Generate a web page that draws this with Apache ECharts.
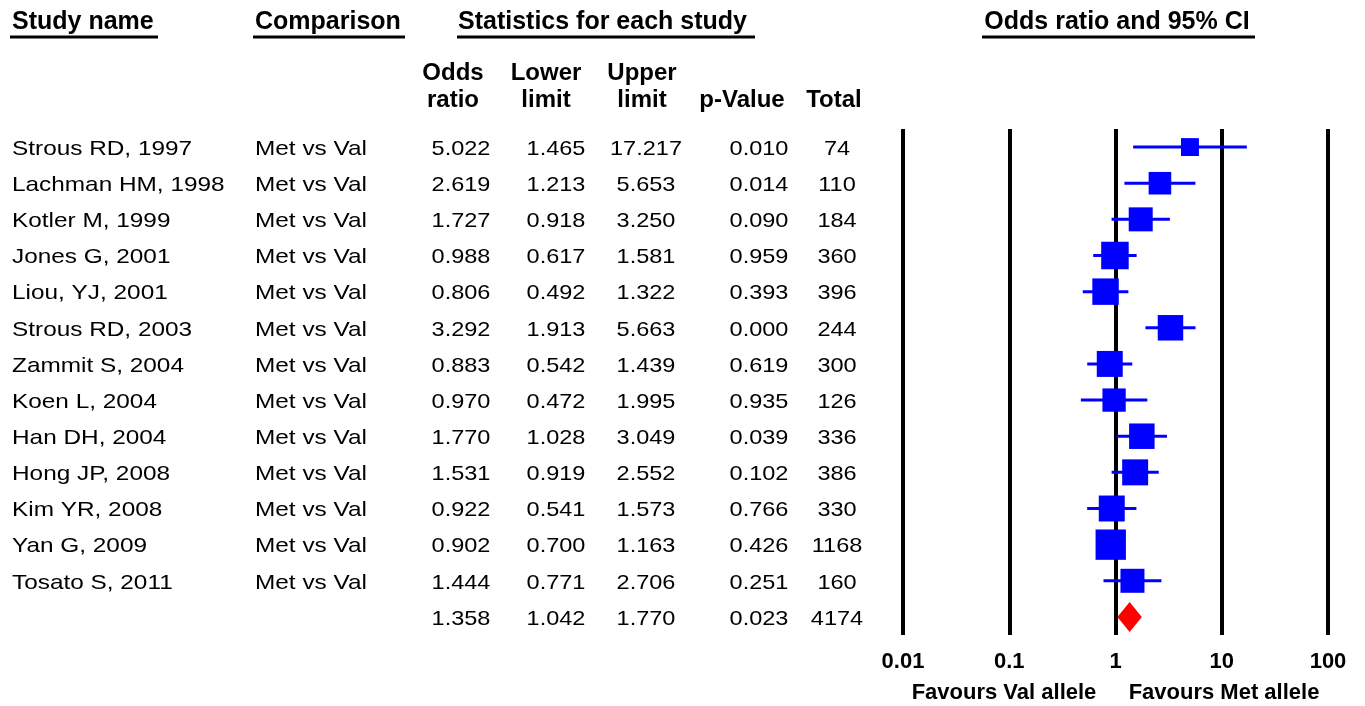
<!DOCTYPE html>
<html>
<head>
<meta charset="utf-8">
<script src="https://cdn.jsdelivr.net/npm/echarts@6/dist/echarts.min.js"></script>
<style>
  html, body { margin: 0; padding: 0; background: #fff; }
  #chart { width: 1365px; height: 706px; }
</style>
</head>
<body>
<div id="chart"></div>
<script>
// ---------- data ----------
const studies = ['Strous RD, 1997', 'Lachman HM, 1998', 'Kotler M, 1999', 'Jones G, 2001', 'Liou, YJ, 2001',
  'Strous RD, 2003', 'Zammit S, 2004', 'Koen L, 2004', 'Han DH, 2004', 'Hong JP, 2008', 'Kim YR, 2008',
  'Yan G, 2009', 'Tosato S, 2011'];
const comparisons = ['Met vs Val', 'Met vs Val', 'Met vs Val', 'Met vs Val', 'Met vs Val', 'Met vs Val',
  'Met vs Val', 'Met vs Val', 'Met vs Val', 'Met vs Val', 'Met vs Val', 'Met vs Val', 'Met vs Val'];
const oddsRatio = [5.022, 2.619, 1.727, 0.988, 0.806, 3.292, 0.883, 0.970, 1.770, 1.531, 0.922, 0.902, 1.444];
const lowerLimit = [1.465, 1.213, 0.918, 0.617, 0.492, 1.913, 0.542, 0.472, 1.028, 0.919, 0.541, 0.700, 0.771];
const upperLimit = [17.217, 5.653, 3.250, 1.581, 1.322, 5.663, 1.439, 1.995, 3.049, 2.552, 1.573, 1.163, 2.706];
const pValue = [0.010, 0.014, 0.090, 0.959, 0.393, 0.000, 0.619, 0.935, 0.039, 0.102, 0.766, 0.426, 0.251];
const total = [74, 110, 184, 360, 396, 244, 300, 126, 336, 386, 330, 1168, 160];
// relative weights (%) estimated from square areas
const weights = [3.9, 6.2, 7.0, 9.2, 8.5, 7.9, 8.2, 6.6, 7.9, 8.2, 8.2, 11.2, 7.0];
// pooled (summary) result
const summaryOR = 1.358;
const summaryLower = 1.042;
const summaryUpper = 1.770;
const summaryP = 0.023;
const summaryTotal = 4174;
// axis ticks
const xTicks = [0.01, 0.1, 1, 10, 100];
const xTickLabels = ['0.01', '0.1', '1', '10', '100'];
const favourLabels = ['Favours Val allele', 'Favours Met allele'];
const topHeaders = ['Study name', 'Comparison', 'Statistics for each study', 'Odds ratio and 95% CI'];

// ---------- build ----------
const rowCats = studies.concat(['Summary']);
const FONT = "'Liberation Sans', Arial, sans-serif";
const BODY = '21px ' + FONT;

function cellText(col, i) {
  const isSum = i === studies.length;
  switch (col) {
    case 0: return isSum ? '' : studies[i];
    case 1: return isSum ? '' : comparisons[i];
    case 2: return (isSum ? summaryOR : oddsRatio[i]).toFixed(3);
    case 3: return (isSum ? summaryLower : lowerLimit[i]).toFixed(3);
    case 4: return (isSum ? summaryUpper : upperLimit[i]).toFixed(3);
    case 5: return (isSum ? summaryP : pValue[i]).toFixed(3);
    case 6: return String(isSum ? summaryTotal : total[i]);
  }
}
const colLayout = [
  { x: 12, align: 'left', sx: 1.16 },
  { x: 255, align: 'left', sx: 1.16 },
  { x: 461, align: 'center', sx: 1.12 },
  { x: 556, align: 'center', sx: 1.12 },
  { x: 646, align: 'center', sx: 1.12 },
  { x: 759, align: 'center', sx: 1.12 },
  { x: 837, align: 'center', sx: 1.12 }
];

function txt(text, x, y, font, align, sx) {
  return {
    type: 'text', x: x, y: y, scaleX: sx || 1, scaleY: 1, silent: true,
    style: { text: text, x: 0, y: 0, font: font, fill: '#000',
      align: align, textAlign: align, verticalAlign: 'middle', textVerticalAlign: 'middle' }
  };
}

const headerFont = 'bold 25px ' + FONT;
const subFont = 'bold 24px ' + FONT;
const graphics = [
  txt(topHeaders[0], 12, 22, headerFont, 'left'),
  txt(topHeaders[1], 255, 22, headerFont, 'left'),
  txt(topHeaders[2], 458, 22, headerFont, 'left'),
  txt(topHeaders[3], 1117, 22, headerFont, 'center'),
  { type: 'line', silent: true, shape: { x1: 10, y1: 37, x2: 158, y2: 37 }, style: { stroke: '#000', lineWidth: 3 } },
  { type: 'line', silent: true, shape: { x1: 253, y1: 37, x2: 405, y2: 37 }, style: { stroke: '#000', lineWidth: 3 } },
  { type: 'line', silent: true, shape: { x1: 457, y1: 37, x2: 755, y2: 37 }, style: { stroke: '#000', lineWidth: 3 } },
  { type: 'line', silent: true, shape: { x1: 982, y1: 37, x2: 1255, y2: 37 }, style: { stroke: '#000', lineWidth: 3 } },
  txt('Odds', 453, 73, subFont, 'center'),
  txt('ratio', 453, 100, subFont, 'center'),
  txt('Lower', 546, 73, subFont, 'center'),
  txt('limit', 546, 100, subFont, 'center'),
  txt('Upper', 642, 73, subFont, 'center'),
  txt('limit', 642, 100, subFont, 'center'),
  txt('p-Value', 742, 100, subFont, 'center'),
  txt('Total', 834, 100, subFont, 'center'),
  txt(favourLabels[0], 1004, 693, 'bold 22px ' + FONT, 'center'),
  txt(favourLabels[1], 1224, 693, 'bold 22px ' + FONT, 'center')
];

const rowIdx = rowCats.map((_, i) => i);

const option = {
  animation: false,
  backgroundColor: '#fff',
  graphic: { elements: graphics },
  grid: { left: 903, right: 37, top: 129, bottom: 71 },
  xAxis: {
    type: 'log', logBase: 10, min: xTicks[0], max: xTicks[xTicks.length - 1],
    axisLine: { show: false }, axisTick: { show: false },
    splitLine: { show: true, showMinLine: true, showMaxLine: true, lineStyle: { color: '#000', width: 4 } },
    axisLabel: {
      margin: 16, color: '#000', fontWeight: 'bold', fontSize: 22, fontFamily: FONT,
      formatter: function (v) {
        const k = Math.round(Math.log10(v)) - Math.round(Math.log10(xTicks[0]));
        return xTickLabels[k] !== undefined ? xTickLabels[k] : '';
      }
    }
  },
  yAxis: {
    type: 'category', data: rowCats, inverse: true, boundaryGap: true,
    axisLine: { show: false }, axisTick: { show: false }, axisLabel: { show: false }, splitLine: { show: false }
  },
  series: [
    {
      type: 'custom', name: 'ci', z: 2, clip: false,
      encode: { x: [0, 1], y: 2 },
      data: studies.map((_, i) => [lowerLimit[i], upperLimit[i], i]),
      renderItem: function (params, api) {
        const a = api.coord([api.value(0), api.value(2)]);
        const b = api.coord([api.value(1), api.value(2)]);
        return { type: 'line', shape: { x1: a[0], y1: a[1], x2: b[0], y2: b[1] },
          style: { stroke: '#0000FF', lineWidth: 3 } };
      }
    },
    {
      type: 'scatter', name: 'or', z: 3, symbol: 'rect',
      data: studies.map((_, i) => [oddsRatio[i], i, weights[i]]),
      symbolSize: function (v) { return Math.sqrt(v[2]) * 9.07; },
      itemStyle: { color: '#0000FF', opacity: 1 }
    },
    {
      type: 'custom', name: 'summary', z: 3, clip: false,
      encode: { x: [0, 1, 2], y: 3 },
      data: [[summaryLower, summaryOR, summaryUpper, studies.length]],
      renderItem: function (params, api) {
        const l = api.coord([api.value(0), api.value(3)]);
        const m = api.coord([api.value(1), api.value(3)]);
        const u = api.coord([api.value(2), api.value(3)]);
        const h = 15;
        return { type: 'polygon', shape: { points: [[l[0], l[1]], [m[0], m[1] - h], [u[0], u[1]], [m[0], m[1] + h]] },
          style: { fill: '#FF0000' } };
      }
    },
    {
      type: 'custom', name: 'table', z: 5, clip: false,
      encode: { x: 0, y: 1 },
      data: rowIdx.map(i => [1, i]),
      renderItem: function (params, api) {
        const i = api.value(1);
        const y = api.coord([1, i])[1] + 2;
        const children = colLayout.map((c, k) => txt(cellText(k, i), c.x, y, BODY, c.align, c.sx));
        return { type: 'group', children: children };
      }
    }
  ]
};

const chart = echarts.init(document.getElementById('chart'), null, { renderer: 'canvas' });
chart.setOption(option);
</script>
</body>
</html>
